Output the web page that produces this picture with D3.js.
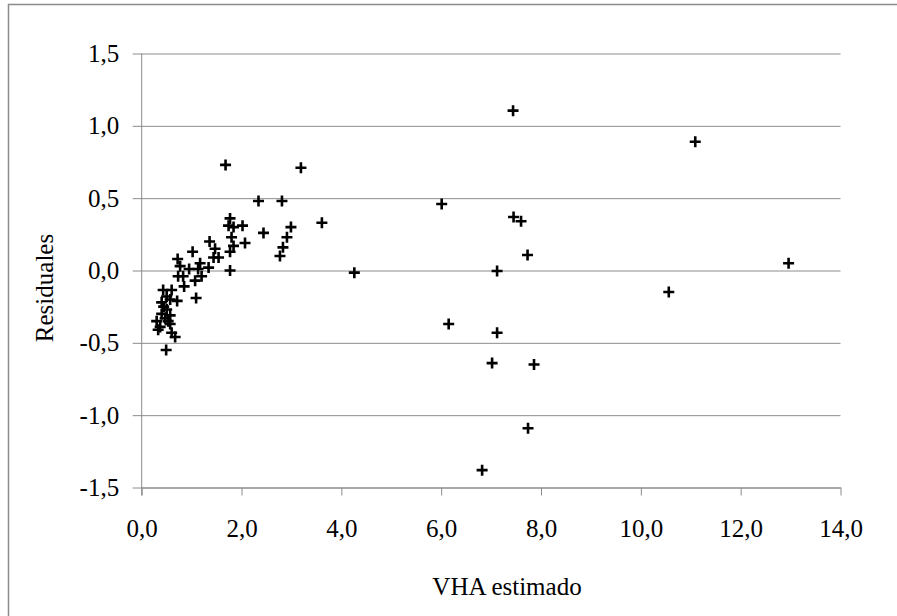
<!DOCTYPE html>
<html>
<head>
<meta charset="utf-8">
<script src="https://cdn.jsdelivr.net/npm/d3@7"></script>
<style>
  html, body { margin: 0; padding: 0; background: #fff; }
  svg { display: block; }
  text { font-family: "Liberation Serif", "Times New Roman", serif; fill: #000; }
</style>
</head>
<body>
<svg id="chart" width="897" height="616"></svg>
<script>
// Estimated VHA (x) and residuals (y)
const vhaEstimado = [
  1.68, 2.34, 1.77, 1.74, 1.84, 2.02, 1.80, 1.84, 2.07, 1.77, 1.77,
  1.36, 1.47, 1.54, 1.44, 1.02, 0.72, 0.77, 0.95, 1.17, 1.13, 1.34,
  1.20, 1.07, 0.73, 0.83, 0.85, 1.09, 0.71,
  0.43, 0.60, 0.50, 0.40, 0.57, 0.44, 0.50, 0.40, 0.57, 0.47, 0.30,
  0.53, 0.37, 0.57, 0.33, 0.60, 0.67, 0.49,
  3.19, 2.81, 3.61, 2.44, 2.99, 2.91, 2.83, 2.77, 4.26,
  7.44, 6.01, 7.45, 7.60, 7.73, 7.12, 6.15, 7.12, 7.02, 7.86, 7.74, 6.82,
  11.09, 12.96, 10.56
];
const residuales = [
  0.73, 0.48, 0.36, 0.31, 0.30, 0.31, 0.23, 0.17, 0.19, 0.13, 0.00,
  0.20, 0.15, 0.09, 0.09, 0.13, 0.08, 0.03, 0.01, 0.05, 0.01, 0.02,
  -0.04, -0.07, -0.04, -0.04, -0.11, -0.19, -0.21,
  -0.135, -0.135, -0.18, -0.22, -0.20, -0.25, -0.27, -0.30, -0.31, -0.33, -0.35,
  -0.35, -0.39, -0.37, -0.41, -0.43, -0.46, -0.55,
  0.71, 0.48, 0.33, 0.26, 0.30, 0.23, 0.16, 0.10, -0.015,
  1.105, 0.46, 0.37, 0.34, 0.107, -0.003, -0.37, -0.43, -0.64, -0.65, -1.09, -1.38,
  0.89, 0.05, -0.149
];
const xTicks = [0, 2, 4, 6, 8, 10, 12, 14];
const yTicks = [-1.5, -1.0, -0.5, 0, 0.5, 1.0, 1.5];

const fmt = v => d3.format(".1f")(v).replace(".", ",").replace("−", "-");
const FONT = '"Liberation Serif", "Times New Roman", serif';
const FS = 25;

const svg = d3.select("#chart");

// outer chart frame
svg.append("rect")
  .attr("x", 8.5).attr("y", 4.5)
  .attr("width", 1000).attr("height", 1000)
  .attr("fill", "none").attr("stroke", "#8c8c8c").attr("stroke-width", 1.5);

const plotLeft = 141.7, plotRight = 840.5, plotTop = 53.5, plotBottom = 487.5;
const x = d3.scaleLinear().domain([0, 14]).range([plotLeft, plotRight]);
const y = d3.scaleLinear().domain([-1.5, 1.5]).range([plotBottom, plotTop]);

// horizontal gridlines with left tick marks
const yAxis = d3.axisLeft(y).tickValues(yTicks).tickFormat(fmt)
  .tickSizeInner(-(plotRight - plotLeft)).tickSizeOuter(0).tickPadding(22.5);
const gy = svg.append("g").attr("transform", `translate(${plotLeft},0)`).call(yAxis);
gy.select(".domain").remove();
gy.selectAll(".tick line").attr("stroke", "#8c8c8c").attr("x1", -9);
gy.selectAll(".tick text").style("font-size", FS + "px").style("font-family", FONT);

// x axis with downward ticks
const xAxis = d3.axisBottom(x).tickValues(xTicks).tickFormat(fmt)
  .tickSizeInner(8).tickSizeOuter(0).tickPadding(24);
const gx = svg.append("g").attr("transform", `translate(0,${plotBottom})`).call(xAxis);
gx.select(".domain").attr("stroke", "#8c8c8c");
gx.selectAll(".tick line").attr("stroke", "#8c8c8c");
gx.selectAll(".tick text").style("font-size", FS + "px").style("font-family", FONT);

// vertical axis line
svg.append("line")
  .attr("x1", plotLeft).attr("x2", plotLeft).attr("y1", plotTop).attr("y2", plotBottom + 8)
  .attr("stroke", "#8c8c8c");

// plus markers
const pts = vhaEstimado.map((v, i) => [v, residuales[i]]);
const h = 5.5;
svg.append("g").selectAll("path").data(pts).join("path")
  .attr("d", d => {
    const cx = x(d[0]), cy = y(d[1]);
    return `M${cx - h},${cy}H${cx + h}M${cx},${cy - h}V${cy + h}`;
  })
  .attr("stroke", "#000").attr("stroke-width", 2.6).attr("fill", "none");

// axis titles
svg.append("text")
  .attr("x", 507).attr("y", 595)
  .attr("text-anchor", "middle")
  .style("font-size", FS + "px").style("font-family", FONT)
  .text("VHA estimado");
svg.append("text")
  .attr("transform", `translate(53,288) rotate(-90)`)
  .attr("text-anchor", "middle")
  .style("font-size", FS + "px").style("font-family", FONT)
  .text("Residuales");
</script>
</body>
</html>
